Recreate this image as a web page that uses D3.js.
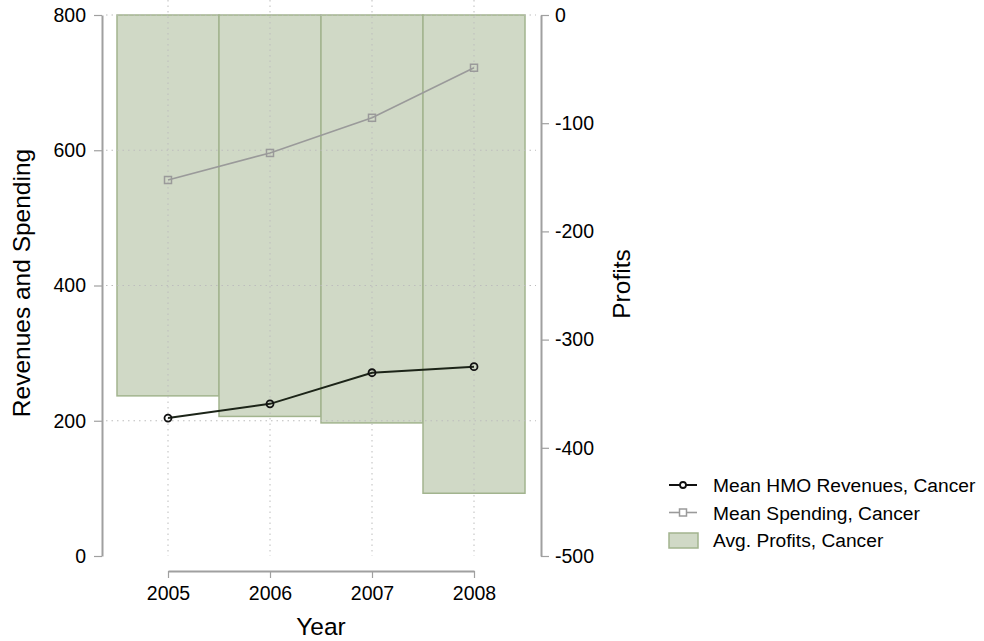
<!DOCTYPE html>
<html>
<head>
<meta charset="utf-8">
<script src="https://cdn.jsdelivr.net/npm/d3@7"></script>
<style>
  body { margin: 0; background: #fff; }
  svg { font-family: "Liberation Sans", Arial, sans-serif; }
</style>
</head>
<body>
<div id="chart"></div>
<script>
// data
const years = [2005, 2006, 2007, 2008];
const revenues = [204, 225, 271, 280];
const spending = [556, 596, 648, 722];
const profits = [-352, -371, -377, -442];
const leftTicks = [0, 200, 400, 600, 800];
const rightTicks = [0, -100, -200, -300, -400, -500];

const width = 984, height = 641;
const plotTop = 15, plotBottom = 556;

const svg = d3.select("#chart").append("svg")
    .attr("width", width)
    .attr("height", height);

// scales
const x = d3.scaleLinear().domain([2005, 2008]).range([168, 474]);
const band = x(2006) - x(2005);
const yL = d3.scaleLinear().domain([0, 800]).range([plotBottom, plotTop]);
const yR = d3.scaleLinear().domain([-500, 0]).range([plotBottom, plotTop]);

// bars (profits, hanging from 0)
svg.append("g").selectAll("rect")
    .data(profits)
    .join("rect")
    .attr("x", (d, i) => x(years[i]) - band / 2)
    .attr("width", band)
    .attr("y", yR(0))
    .attr("height", d => yR(d) - yR(0))
    .attr("fill", "#d0d9c6")
    .attr("stroke", "#a2b48e")
    .attr("stroke-width", 1.5);

// grid on top of bars
const grid = svg.append("g")
    .attr("stroke", "#bdbdbd")
    .attr("stroke-width", 1)
    .attr("stroke-dasharray", "1.5,4");
grid.selectAll(".h")
    .data(leftTicks.slice(1))
    .join("line")
    .attr("x1", 106).attr("x2", 536)
    .attr("y1", d => yL(d)).attr("y2", d => yL(d));
grid.selectAll(".v")
    .data(years)
    .join("line")
    .attr("x1", d => x(d)).attr("x2", d => x(d))
    .attr("y1", 0).attr("y2", plotBottom);

// lines
const line = (vals) => d3.line()
    .x((d, i) => x(years[i]))
    .y(d => yL(d))(vals);

svg.append("path")
    .attr("d", line(spending))
    .attr("fill", "none")
    .attr("stroke", "#9a9a9a")
    .attr("stroke-width", 1.6);
svg.append("g").selectAll("rect")
    .data(spending)
    .join("rect")
    .attr("x", (d, i) => x(years[i]) - 3.5)
    .attr("y", d => yL(d) - 3.5)
    .attr("width", 7).attr("height", 7)
    .attr("fill", "none")
    .attr("stroke", "#9a9a9a")
    .attr("stroke-width", 1.5);

svg.append("path")
    .attr("d", line(revenues))
    .attr("fill", "none")
    .attr("stroke", "#1c2418")
    .attr("stroke-width", 2);
svg.append("g").selectAll("circle")
    .data(revenues)
    .join("circle")
    .attr("cx", (d, i) => x(years[i]))
    .attr("cy", d => yL(d))
    .attr("r", 3.5)
    .attr("fill", "none")
    .attr("stroke", "#111")
    .attr("stroke-width", 1.8);

// axes
const axisStyle = g => {
    g.select(".domain").attr("stroke", "#a0a0a0").attr("stroke-width", 2);
    g.selectAll(".tick line").attr("stroke", "#a0a0a0").attr("stroke-width", 1.2);
    g.selectAll(".tick text").attr("fill", "#000").style("font-size", "19.5px");
};

svg.append("g")
    .attr("transform", "translate(102,0)")
    .call(d3.axisLeft(yL).tickValues(leftTicks).tickSize(8).tickSizeOuter(0).tickPadding(8))
    .call(axisStyle);

svg.append("g")
    .attr("transform", "translate(541,0)")
    .call(d3.axisRight(yR).tickValues(rightTicks).tickSize(8).tickSizeOuter(0).tickPadding(6))
    .call(axisStyle)
    .call(g => g.selectAll(".tick text").text(d => d === 0 ? "0" : "-" + Math.abs(d)));

svg.append("g")
    .attr("transform", "translate(0,571)")
    .call(d3.axisBottom(x).tickValues(years).tickFormat(d3.format("d")).tickSize(7).tickSizeOuter(0).tickPadding(8))
    .call(axisStyle);

// axis titles
svg.append("text")
    .attr("transform", "translate(30,283) rotate(-90)")
    .attr("text-anchor", "middle")
    .style("font-size", "24.5px")
    .text("Revenues and Spending");
svg.append("text")
    .attr("transform", "translate(630,284) rotate(-90)")
    .attr("text-anchor", "middle")
    .style("font-size", "24.5px")
    .text("Profits");
svg.append("text")
    .attr("x", x(2006.5)).attr("y", 635)
    .attr("text-anchor", "middle")
    .style("font-size", "24.5px")
    .text("Year");

// legend
const legend = svg.append("g").attr("transform", "translate(669,485)");
const items = ["Mean HMO Revenues, Cancer", "Mean Spending, Cancer", "Avg. Profits, Cancer"];
items.forEach((label, i) => {
    const row = legend.append("g").attr("transform", "translate(0," + (i * 27.5) + ")");
    if (i === 0) {
        row.append("line").attr("x1", 0).attr("x2", 28).attr("stroke", "#111").attr("stroke-width", 2);
        row.append("circle").attr("cx", 14).attr("r", 3).attr("fill", "#fff").attr("stroke", "#111").attr("stroke-width", 1.8);
    } else if (i === 1) {
        row.append("line").attr("x1", 0).attr("x2", 28).attr("stroke", "#9a9a9a").attr("stroke-width", 1.6);
        row.append("rect").attr("x", 10.5).attr("y", -3.5).attr("width", 7).attr("height", 7)
            .attr("fill", "#fff").attr("stroke", "#9a9a9a").attr("stroke-width", 1.5);
    } else {
        row.append("rect").attr("x", 0).attr("y", -7).attr("width", 29).attr("height", 15)
            .attr("fill", "#d0d9c6").attr("stroke", "#a2b48e").attr("stroke-width", 1.5);
    }
    row.append("text")
        .attr("x", 44).attr("y", 7)
        .style("font-size", "19.2px")
        .text(label);
});
</script>
</body>
</html>
